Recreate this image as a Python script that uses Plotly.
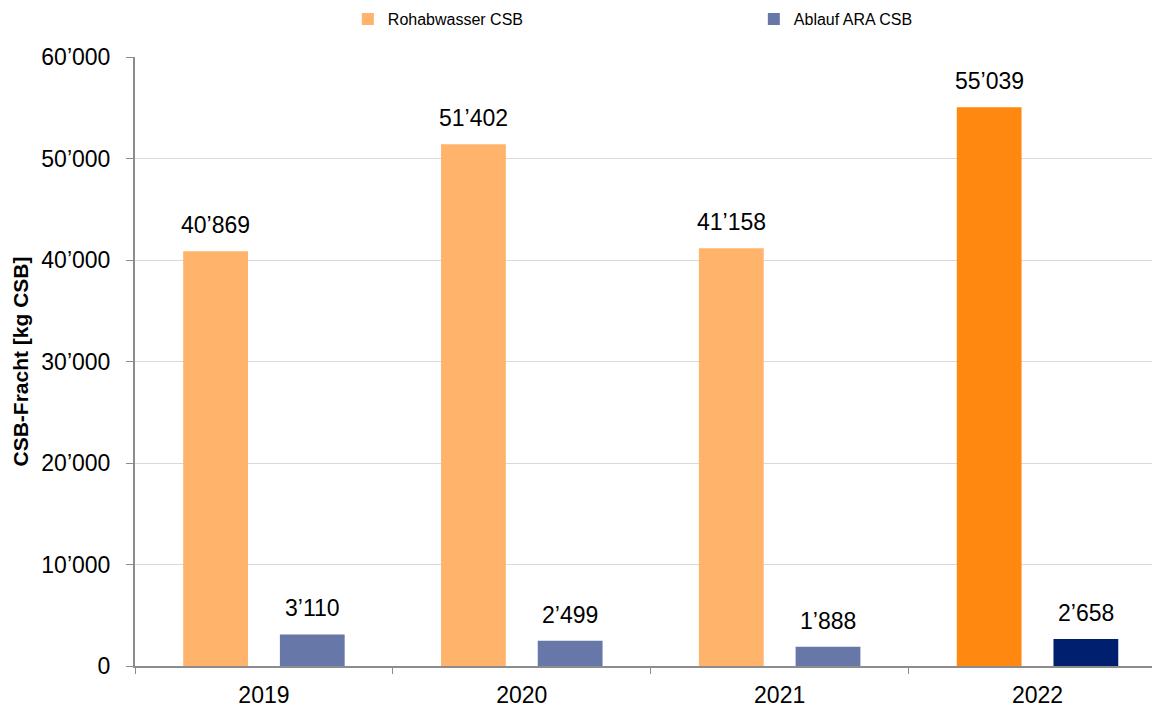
import plotly.graph_objects as go

years = ["2019", "2020", "2021", "2022"]
rohabwasser = [40869, 51402, 41158, 55039]
ablauf = [3110, 2499, 1888, 2658]
y_ticks = [0, 10000, 20000, 30000, 40000, 50000, 60000]

def fmt(v):
    return f"{v:,}".replace(",", "’")

roh_colors = ["#FFB36B", "#FFB36B", "#FFB36B", "#FF8811"]
abl_colors = ["#6677A8", "#6677A8", "#6677A8", "#001F6F"]

FONT = "Liberation Sans, Arial, sans-serif"

fig = go.Figure()
fig.add_trace(go.Bar(name="Rohabwasser CSB", x=years, y=rohabwasser,
                     marker=dict(color=roh_colors, line=dict(width=0))))
fig.add_trace(go.Bar(name="Ablauf ARA CSB", x=years, y=ablauf,
                     marker=dict(color=abl_colors, line=dict(width=0))))

annotations = []
for i, v in enumerate(rohabwasser):
    annotations.append(dict(x=i, y=v, xref="x", yref="y", text=fmt(v), showarrow=False,
                            xshift=-48.5, yanchor="bottom", yshift=11,
                            font=dict(size=23, color="#000000", family=FONT)))
for i, v in enumerate(ablauf):
    annotations.append(dict(x=i, y=v, xref="x", yref="y", text=fmt(v), showarrow=False,
                            xshift=48.5, yanchor="bottom", yshift=11,
                            font=dict(size=23, color="#000000", family=FONT)))

fig.update_layout(
    width=1152, height=700,
    margin=dict(l=127, r=0, t=49, b=42),
    paper_bgcolor="white", plot_bgcolor="white",
    font=dict(family=FONT, color="#000000"),
    barmode="group", bargap=0.25, bargroupgap=0.33,
    annotations=annotations,
    showlegend=True,
    legend=dict(orientation="h", xref="container", yref="container",
                x=0.295, y=0.9843, xanchor="left", yanchor="middle",
                font=dict(size=16, family=FONT), itemwidth=30,
                entrywidth=361, entrywidthmode="pixels",
                bgcolor="rgba(0,0,0,0)", traceorder="normal"),
    xaxis=dict(type="category", range=[-0.5, 3.475], showgrid=False,
               showline=True, linecolor="#8C8C8C", linewidth=2,
               ticks="outside", tickson="boundaries", ticklen=6, tickcolor="#8C8C8C",
               tickfont=dict(size=23, family=FONT), ticklabelstandoff=7),
    yaxis=dict(range=[0, 60000], tickvals=y_ticks, ticktext=[fmt(v) for v in y_ticks],
               showgrid=True, gridcolor="#D9D9D9", gridwidth=1,
               showline=True, linecolor="#8C8C8C", linewidth=2,
               ticks="outside", ticklen=7, tickcolor="#8C8C8C",
               tickfont=dict(size=23, family=FONT), ticklabelstandoff=11,
               zeroline=False,
               title=dict(text="<b>CSB-Fracht [kg CSB]</b>", font=dict(size=21, family=FONT),
                          standoff=7)),
)

fig.write_html("out.html")
